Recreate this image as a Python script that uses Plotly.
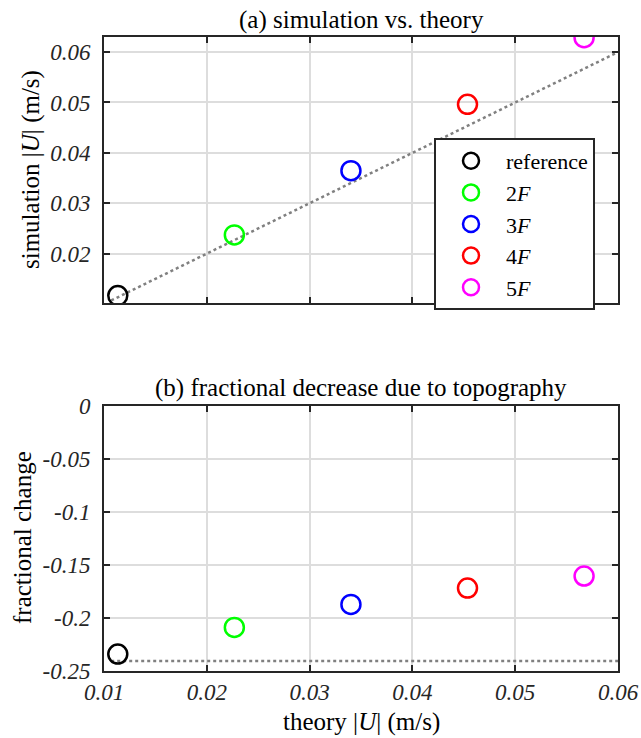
import plotly.graph_objects as go

labels = ["reference", "2<i>F</i>", "3<i>F</i>", "4<i>F</i>", "5<i>F</i>"]
colors = ["#000000", "#00ff00", "#0000ff", "#ff0000", "#ff00ff"]
theory = [0.01134, 0.02268, 0.03402, 0.04536, 0.05670]
simulation = [0.01167, 0.02371, 0.03647, 0.04964, 0.06286]
frac_change = [-0.2343, -0.2091, -0.1874, -0.1720, -0.1606]

line_x = [0.0107, 0.06]
line_y_top = [0.0107, 0.06]
frac_ref = -0.2409

xticks = [0.01, 0.02, 0.03, 0.04, 0.05, 0.06]
xtick_text = ["0.01", "0.02", "0.03", "0.04", "0.05", "0.06"]
ytop_ticks = [0.02, 0.03, 0.04, 0.05, 0.06]
ytop_text = ["0.02", "0.03", "0.04", "0.05", "0.06"]
ybot_ticks = [-0.25, -0.2, -0.15, -0.1, -0.05, 0]
ybot_text = ["-0.25", "-0.2", "-0.15", "-0.1", "-0.05", "0"]

FONT = "Liberation Serif"
AX = "#262626"
GRID = "#dddddd"
TS = 25

fig = go.Figure()

fig.add_trace(go.Scatter(x=line_x, y=line_y_top, mode="lines",
                         line=dict(color="#808080", width=2.5, dash="dot"),
                         showlegend=False, xaxis="x", yaxis="y", hoverinfo="skip"))
fig.add_trace(go.Scatter(x=line_x, y=[frac_ref, frac_ref], mode="lines",
                         line=dict(color="#808080", width=2.5, dash="dot"),
                         showlegend=False, xaxis="x2", yaxis="y2", hoverinfo="skip"))

for lab, c, tx, sy, fc in zip(labels, colors, theory, simulation, frac_change):
    fig.add_trace(go.Scatter(x=[tx], y=[sy], mode="markers", name=lab,
                             marker=dict(symbol="circle-open", size=19, color=c,
                                         line=dict(width=2.5, color=c)),
                             xaxis="x", yaxis="y"))
    fig.add_trace(go.Scatter(x=[tx], y=[fc], mode="markers", name=lab, showlegend=False,
                             marker=dict(symbol="circle-open", size=19, color=c,
                                         line=dict(width=2.5, color=c)),
                             xaxis="x2", yaxis="y2"))

xd = [104 / 641, 618 / 641]
common = dict(showline=True, linecolor=AX, linewidth=2, mirror="ticks",
              ticks="inside", ticklen=6, tickwidth=2, tickcolor=AX,
              showgrid=True, gridcolor=GRID, gridwidth=1.5, zeroline=False,
              automargin=False,
              tickfont=dict(family=FONT, size=23, color=AX, style="italic"))


def ann(text, x, y, angle=0):
    return dict(text=text, x=x, y=y, xref="paper", yref="paper", showarrow=False,
                xanchor="center", yanchor="middle", textangle=angle,
                font=dict(family=FONT, size=TS, color="#000000"))


xc = 0.5 * (xd[0] + xd[1])
fig.update_layout(
    template="none",
    width=641, height=738,
    margin=dict(l=0, r=0, t=0, b=0, autoexpand=False),
    paper_bgcolor="white", plot_bgcolor="white",
    font=dict(family=FONT, color=AX),
    xaxis=dict(domain=xd, range=[0.01, 0.06], tickvals=xticks, showticklabels=False,
               anchor="y", **common),
    yaxis=dict(domain=[1 - 303 / 738, 1 - 37 / 738], range=[0.0102, 0.063],
               tickvals=ytop_ticks, ticktext=ytop_text, anchor="x",
               ticklabelstandoff=7, **common),
    xaxis2=dict(domain=xd, range=[0.01, 0.06], tickvals=xticks, ticktext=xtick_text,
                anchor="y2", **common),
    yaxis2=dict(domain=[1 - 670.7 / 738, 1 - 406 / 738], range=[-0.25, 0],
                tickvals=ybot_ticks, ticktext=ybot_text, anchor="x2",
                ticklabelstandoff=7, **common),
    legend=dict(x=434 / 641, y=1 - 138 / 738, xanchor="left", yanchor="top",
                bgcolor="white", bordercolor=AX, borderwidth=2,
                font=dict(family=FONT, size=22, color="#000000"),
                itemsizing="trace", itemwidth=60),
    annotations=[
        ann("(a) simulation vs. theory", xc, 1 - 20 / 738),
        ann("(b) fractional decrease due to topography", xc, 1 - 388 / 738),
        ann("simulation |<i>U</i>| (m/s)", 31 / 641, 1 - 170 / 738, -90),
        ann("fractional change", 22 / 641, 1 - 538 / 738, -90),
        ann("theory |<i>U</i>| (m/s)", xc, 1 - 722 / 738),
    ],
)

fig.write_html("out.html")
